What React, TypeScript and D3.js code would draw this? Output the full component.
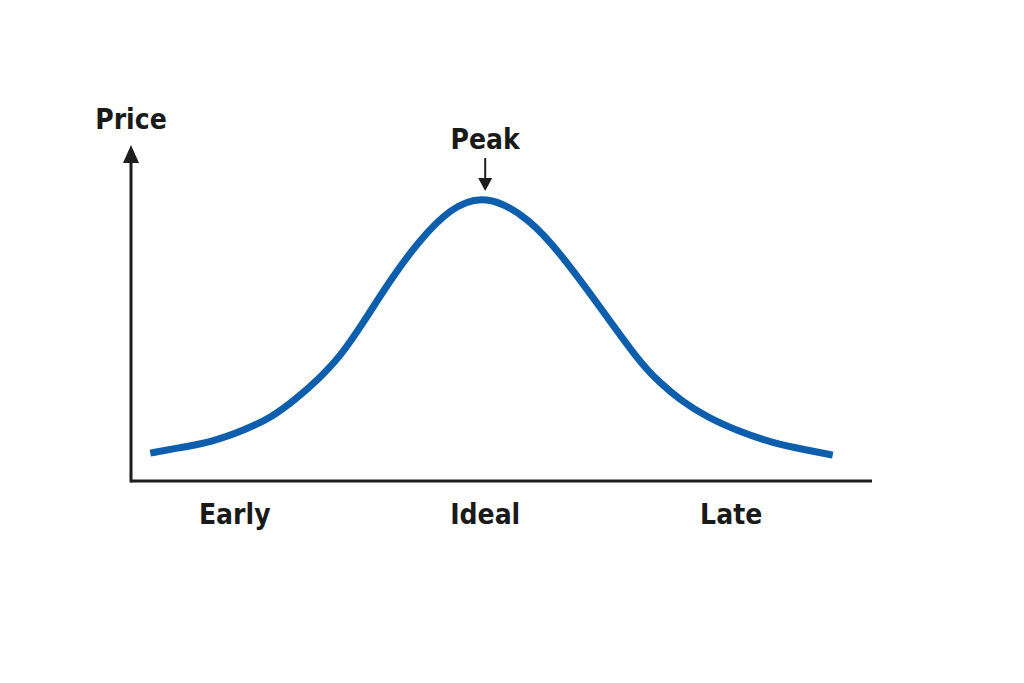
import React from "react";
import * as d3 from "d3";

const timeValues = [2.6, 6.3, 10.9, 15.4, 19.0, 22.1, 25.2, 28.2, 31.3, 35.0, 38.6, 43.0, 47.8, 53.8, 58.3, 62.9, 68.7, 71.4, 74.1, 77.7, 82.2, 86.6, 91.2, 94.7];
const priceValues = [8.3, 9.8, 11.6, 15.2, 19.0, 24.1, 30.1, 36.9, 47.0, 59.8, 70.8, 81.2, 85.6, 78.2, 66.7, 53.0, 35.1, 29.2, 24.1, 19.0, 14.6, 11.3, 9.2, 7.7];
const categoryLabels = ["Early", "Ideal", "Late"];
const categoryPositions = [14, 47.8, 81];
const peakPosition = 47.8;
const yAxisLabel = "Price";
const peakLabel = "Peak";

export default function App() {
  const width = 1024;
  const height = 683;
  const x = d3.scaleLinear().domain([0, 100]).range([131, 872]);
  const y = d3.scaleLinear().domain([0, 100]).range([481, 145]);
  const pts = timeValues.map((t, i) => [t, priceValues[i]] as [number, number]);
  const line = d3
    .line<[number, number]>()
    .x((d) => x(d[0]))
    .y((d) => y(d[1]))
    .curve(d3.curveBasis);
  const font = "'DejaVu Sans', sans-serif";
  const axisColor = "#1e1e1e";
  const x0 = x(0);
  const y0 = y(0);
  const yTop = y(100);
  const px = x(peakPosition);
  const textProps = {
    fontFamily: font,
    fontWeight: "bold" as const,
    fontSize: 28,
    fill: "#1a1a1a",
    textAnchor: "middle" as const,
    style: { fontStretch: "condensed" },
  };
  return (
    <svg
      width={width}
      height={height}
      style={{ position: "absolute", left: 0, top: 0, background: "#fff" }}
    >
      <rect width={width} height={height} fill="#fff" />
      <line x1={x0} y1={y0} x2={x(100)} y2={y0} stroke={axisColor} strokeWidth={3} />
      <line x1={x0} y1={y0 + 1.5} x2={x0} y2={yTop + 14} stroke={axisColor} strokeWidth={3} />
      <path
        d={`M${x0},${yTop} L${x0 - 8},${yTop + 18} L${x0 + 8},${yTop + 18} Z`}
        fill={axisColor}
      />
      <text x={x0} y={yTop - 16} {...textProps}>
        {yAxisLabel}
      </text>
      <path
        d={line(pts) || ""}
        fill="none"
        stroke="#0d5ead"
        strokeWidth={7}
        strokeLinecap="butt"
      />
      <text x={px} y={149} {...textProps}>
        {peakLabel}
      </text>
      <line x1={px} y1={158} x2={px} y2={180} stroke={axisColor} strokeWidth={2} />
      <path d={`M${px},${191} L${px - 7},${178} L${px + 7},${178} Z`} fill={axisColor} />
      {categoryLabels.map((c, i) => (
        <text key={c} x={x(categoryPositions[i])} y={524} {...textProps}>
          {c}
        </text>
      ))}
    </svg>
  );
}
